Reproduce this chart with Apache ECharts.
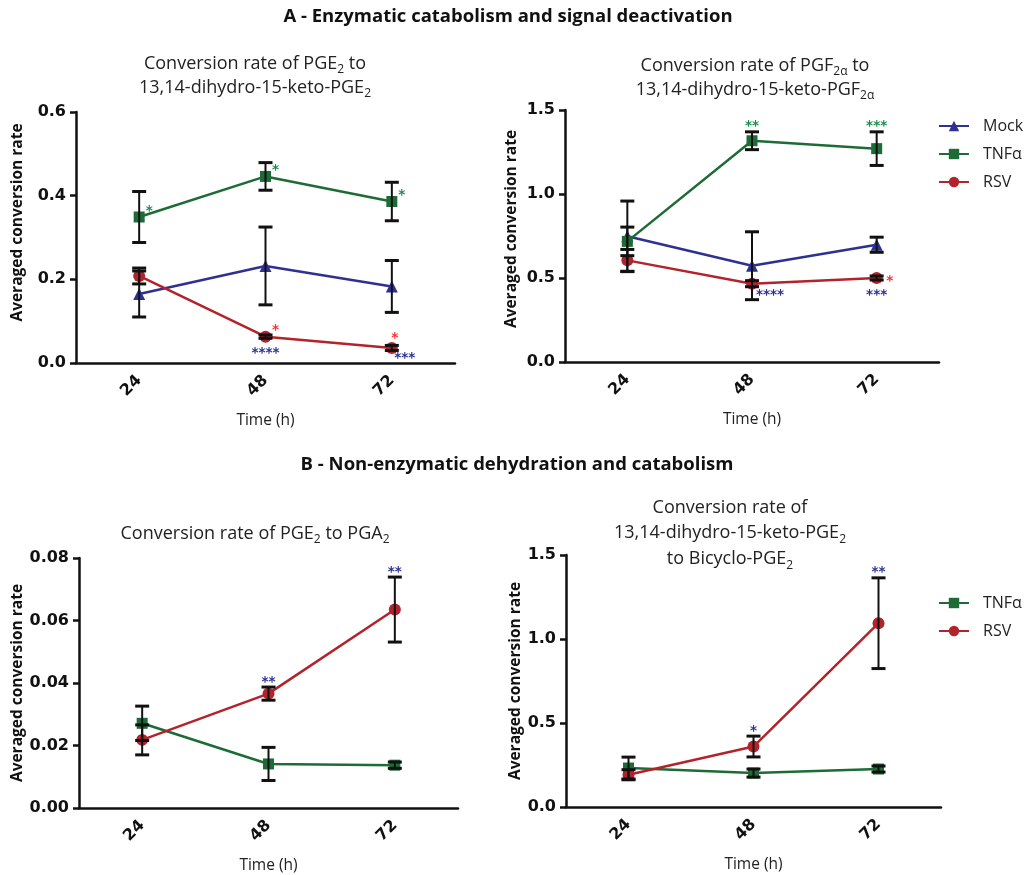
<!DOCTYPE html>
<html><head><meta charset="utf-8">
<script src="https://cdn.jsdelivr.net/npm/echarts@6/dist/echarts.min.js"></script>
<style>html,body{margin:0;padding:0;background:#fff}#c{width:1030px;height:875px}</style>
</head><body><div id="c"></div>
<script>
// ---------- data ----------
const categories = ['24', '48', '72'];

// Panel A1: PGE2 -> 13,14-dihydro-15-keto-PGE2
const panelA1Mock = [0.165, 0.232, 0.183];
const panelA1MockErr = [0.055, 0.093, 0.062];
const panelA1Tnf = [0.349, 0.446, 0.386];
const panelA1TnfErr = [0.061, 0.033, 0.046];
const panelA1Rsv = [0.208, 0.063, 0.036];
const panelA1RsvErr = [0.019, 0.004, 0.006];

// Panel A2: PGF2a -> 13,14-dihydro-15-keto-PGF2a
const panelA2Mock = [0.748, 0.573, 0.698];
const panelA2MockErr = [0.21, 0.202, 0.045];
const panelA2Tnf = [0.718, 1.317, 1.27];
const panelA2TnfErr = [0.085, 0.053, 0.1];
const panelA2Rsv = [0.605, 0.466, 0.5];
const panelA2RsvErr = [0.065, 0.018, 0.012];

// Panel B1: PGE2 -> PGA2
const panelB1Tnf = [0.0271, 0.0141, 0.0137];
const panelB1TnfErr = [0.0055, 0.0053, 0.0010];
const panelB1Rsv = [0.0218, 0.0366, 0.0635];
const panelB1RsvErr = [0.0048, 0.0021, 0.0104];

// Panel B2: 13,14-dihydro-15-keto-PGE2 -> Bicyclo-PGE2
const panelB2Tnf = [0.232, 0.202, 0.226];
const panelB2TnfErr = [0.065, 0.024, 0.018];
const panelB2Rsv = [0.192, 0.36, 1.094];
const panelB2RsvErr = [0.03, 0.062, 0.27];

// y tick labels
const yTicksA1 = ['0.0', '0.2', '0.4', '0.6'];
const yTicksA2 = ['0.0', '0.5', '1.0', '1.5'];
const yTicksB1 = ['0.00', '0.02', '0.04', '0.06', '0.08'];
const yTicksB2 = ['0.0', '0.5', '1.0', '1.5'];

// significance annotations: [series, category index, text, compared group, placement]
const annotA1 = [
  ['TNF', 0, '*', 'tnf', 'upright'], ['TNF', 1, '*', 'tnf', 'upright'], ['TNF', 2, '*', 'tnf', 'upright'],
  ['RSV', 1, '*', 'rsv', 'upright'], ['RSV', 2, '*', 'rsv', 'up'],
  ['RSV', 1, '****', 'mock', 'below'], ['RSV', 2, '***', 'mock', 'downright']
];
const annotA2 = [
  ['TNF', 1, '**', 'tnf', 'above'], ['TNF', 2, '***', 'tnf', 'above'],
  ['RSV', 1, '****', 'mock', 'belowright'], ['RSV', 2, '*', 'rsv', 'right'], ['RSV', 2, '***', 'mock', 'below']
];
const annotB1 = [['RSV', 1, '**', 'mock', 'above'], ['RSV', 2, '**', 'mock', 'above']];
const annotB2 = [['RSV', 1, '*', 'mock', 'above'], ['RSV', 2, '**', 'mock', 'above']];

// ---------- styling ----------
const seriesStyle = {
  Mock: { name: 'Mock', color: '#2e3192', symbol: 'triangle', size: 12 },
  TNF: { name: 'TNF\u03b1', color: '#1d6b36', symbol: 'rect', size: 11 },
  RSV: { name: 'RSV', color: '#b2232b', symbol: 'circle', size: 12 }
};
const starColor = { tnf: '#1f8a4e', rsv: '#ff2f2f', mock: '#2e3192' };
const placeOffset = {
  upright: [10, -6], up: [3, -9], below: [0, 17], downright: [13, 11],
  belowright: [18, 12], right: [13, 3], above: [0, -5]
};

const TITLE_FONT = '"Open Sans", "Noto Sans", sans-serif';
const TICK_FONT = '"DejaVu Sans", sans-serif';

const option = {
  animation: false,
  backgroundColor: '#fff',
  grid: [], xAxis: [], yAxis: [], series: [], legend: [], graphic: []
};

function addPanel(idx, box, ticks, seriesMap, annots, nameGap, nameShift) {
  option.grid.push({ left: box[0], top: box[1], width: box[2], height: box[3], containLabel: false });
  option.xAxis.push({
    type: 'category', gridIndex: idx, data: categories, boundaryGap: true,
    name: 'Time (h)', nameLocation: 'middle', nameGap: 50,
    nameTextStyle: { fontFamily: TITLE_FONT, fontSize: 15.5, color: '#222' },
    axisLine: { lineStyle: { color: '#111', width: 2.5 } },
    axisTick: { alignWithLabel: true, length: 6, lineStyle: { color: '#111', width: 2.5 } },
    axisLabel: { rotate: 45, margin: 15, padding: [8, 0, 0, 0], fontFamily: TICK_FONT, fontWeight: 'bold', fontSize: 16, color: '#111' },
    splitLine: { show: false }
  });
  const maxV = parseFloat(ticks[ticks.length - 1]);
  const step = parseFloat(ticks[1]);
  const dec = ticks[0].split('.')[1].length;
  option.yAxis.push({
    type: 'value', gridIndex: idx, min: 0, max: maxV, interval: step,
    name: 'Averaged conversion rate', nameLocation: 'middle', nameGap: nameGap,
    nameTextStyle: { fontFamily: TITLE_FONT, fontWeight: 'bold', fontSize: 15.5, color: '#111',
      padding: [0, 0, 0, nameShift] },
    axisLine: { show: true, lineStyle: { color: '#111', width: 2.5 } },
    axisTick: { show: true, length: 6, lineStyle: { color: '#111', width: 2.5 } },
    axisLabel: { margin: 10, fontFamily: TICK_FONT, fontWeight: 'bold', fontSize: 16, color: '#111',
      formatter: v => v.toFixed(dec) },
    splitLine: { show: false }
  });
  const means = {};
  Object.keys(seriesMap).forEach(key => {
    const st = seriesStyle[key];
    const [vals, errs] = seriesMap[key];
    means[key] = [vals, errs];
    option.series.push({
      type: 'line', name: st.name, xAxisIndex: idx, yAxisIndex: idx, data: vals,
      symbol: st.symbol, symbolSize: st.size, showSymbol: true, z: 2,
      lineStyle: { color: st.color, width: 2.5 }, itemStyle: { color: st.color, opacity: 1 }
    });
  });
  // error bars (drawn on top)
  Object.keys(seriesMap).forEach(key => {
    const [vals, errs] = seriesMap[key];
    option.series.push({
      type: 'custom', xAxisIndex: idx, yAxisIndex: idx, z: 4, clip: false, silent: true,
      data: vals.map((v, i) => [i, v - errs[i], v + errs[i]]),
      encode: { x: 0, y: [1, 2] },
      renderItem: (params, api) => {
        const lo = api.coord([api.value(0), api.value(1)]);
        const hi = api.coord([api.value(0), api.value(2)]);
        const w = 7;
        const s = { stroke: '#111', lineWidth: 2 };
        const c = { stroke: '#111', lineWidth: 3 };
        return { type: 'group', children: [
          { type: 'line', shape: { x1: lo[0], y1: lo[1], x2: hi[0], y2: hi[1] }, style: s },
          { type: 'line', shape: { x1: lo[0] - w, y1: lo[1], x2: lo[0] + w, y2: lo[1] }, style: c },
          { type: 'line', shape: { x1: hi[0] - w, y1: hi[1], x2: hi[0] + w, y2: hi[1] }, style: c }
        ]};
      }
    });
  });
  // significance stars
  option.series.push({
    type: 'custom', xAxisIndex: idx, yAxisIndex: idx, z: 5, clip: false, silent: true,
    data: annots.map(a => {
      const [vals, errs] = means[a[0]];
      const anchor = a[4] === 'above' ? vals[a[1]] + errs[a[1]] : vals[a[1]];
      return [a[1], anchor];
    }),
    encode: { x: 0, y: 1 },
    renderItem: (params, api) => {
      const a = annots[params.dataIndex];
      const p = api.coord([api.value(0), api.value(1)]);
      const off = placeOffset[a[4]];
      return { type: 'text', x: p[0] + off[0], y: p[1] + off[1],
        style: { text: a[2], fill: starColor[a[3]], fontFamily: '"DejaVu Sans", sans-serif',
          fontWeight: 'bold', fontSize: 13.5, align: 'center', verticalAlign: 'middle' } };
    }
  });
}

addPanel(0, [76, 112, 379, 251], yTicksA1,
  { Mock: [panelA1Mock, panelA1MockErr], TNF: [panelA1Tnf, panelA1TnfErr], RSV: [panelA1Rsv, panelA1RsvErr] }, annotA1, 50, 30);
addPanel(1, [565, 110, 374, 252], yTicksA2,
  { Mock: [panelA2Mock, panelA2MockErr], TNF: [panelA2Tnf, panelA2TnfErr], RSV: [panelA2Rsv, panelA2RsvErr] }, annotA2, 45, 14);
addPanel(2, [79, 558, 379, 253], yTicksB1,
  { TNF: [panelB1Tnf, panelB1TnfErr], RSV: [panelB1Rsv, panelB1RsvErr] }, annotB1, 53, 0);
addPanel(3, [566, 555, 375, 252], yTicksB2,
  { TNF: [panelB2Tnf, panelB2TnfErr], RSV: [panelB2Rsv, panelB2RsvErr] }, annotB2, 42, 0);

const legendCommon = {
  orient: 'vertical', itemWidth: 30, itemHeight: 13, itemGap: 12, selectedMode: false,
  textStyle: { fontFamily: TITLE_FONT, fontSize: 16, color: '#222', padding: [0, 0, 0, 9] }
};
option.legend.push(Object.assign({}, legendCommon, { left: 933, top: 113, data: ['Mock', 'TNF\u03b1', 'RSV'] }));
option.legend.push(Object.assign({}, legendCommon, { left: 933, top: 590, data: ['TNF\u03b1', 'RSV'] }));

// headings and panel titles
const richSub = { s: { fontSize: 12, lineHeight: 12, verticalAlign: 'bottom', fontFamily: TITLE_FONT, fill: '#222' } };
function titleText(x, y, text) {
  return { type: 'text', x: x, y: y, style: { text: text, fontFamily: TITLE_FONT, fontSize: 18, lineHeight: 24,
    fill: '#222', align: 'center', verticalAlign: 'top', rich: richSub } };
}
option.graphic = [
  { type: 'text', x: 508, y: 17, style: { text: 'A - Enzymatic catabolism and signal deactivation',
    fontFamily: TITLE_FONT, fontWeight: 'bold', fontSize: 18.5, fill: '#111', align: 'center', verticalAlign: 'middle' } },
  { type: 'text', x: 517, y: 465, style: { text: 'B - Non-enzymatic dehydration and catabolism',
    fontFamily: TITLE_FONT, fontWeight: 'bold', fontSize: 18.5, fill: '#111', align: 'center', verticalAlign: 'middle' } },
  titleText(255, 52, 'Conversion rate of PGE{s|2} to\n13,14-dihydro-15-keto-PGE{s|2}'),
  titleText(755, 54, 'Conversion rate of PGF{s|2\u03b1} to\n13,14-dihydro-15-keto-PGF{s|2\u03b1}'),
  titleText(255, 522, 'Conversion rate of PGE{s|2} to PGA{s|2}'),
  { type: 'text', x: 730, y: 495, style: { text: 'Conversion rate of\n13,14-dihydro-15-keto-PGE{s|2}\nto Bicyclo-PGE{s|2}',
    fontFamily: TITLE_FONT, fontSize: 18, lineHeight: 25.5, fill: '#222', align: 'center', verticalAlign: 'top', rich: richSub } }
];

const chart = echarts.init(document.getElementById('c'), null, { renderer: 'canvas' });
chart.setOption(option);
</script>
</body></html>
